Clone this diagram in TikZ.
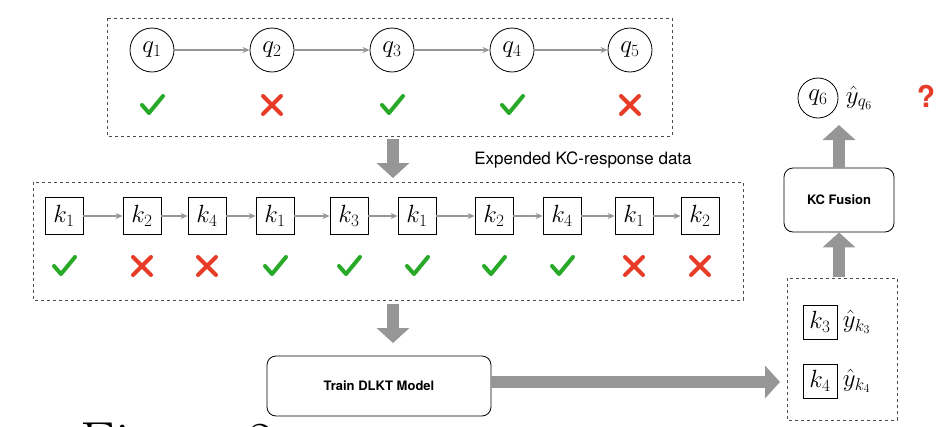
\documentclass[tikz,border=0pt]{standalone}
\usepackage{fontspec}
\setsansfont{TeX Gyre Heros}
\usetikzlibrary{arrows.meta,positioning}
\definecolor{OkGreen}{RGB}{40,170,40}
\definecolor{BadRed}{RGB}{230,60,40}
\definecolor{FlowGray}{RGB}{150,150,150}
\tikzset{
  qnode/.style={circle,draw,thick,minimum size=44pt,inner sep=0pt,font=\fontsize{26}{26}\selectfont},
  knode/.style={rectangle,draw,thick,minimum width=38pt,minimum height=37pt,inner sep=0pt,font=\fontsize{24}{24}\selectfont},
  group/.style={draw=black!70,dashed,thick},
  proc/.style={rectangle,draw,thick,rounded corners=9pt,font=\sffamily\bfseries\fontsize{13}{13}\selectfont},
  seqarrow/.style={-{Stealth[length=7pt,width=6pt]},FlowGray,line width=1.4pt},
  flow/.style={-{Triangle[length=15pt,width=32pt]},FlowGray,line width=12pt},
  ok/.pic={\draw[OkGreen,line width=4pt,line cap=round,line join=round] (-10,0) -- (-3,8) -- (11,-9);},
  bad/.pic={\draw[BadRed,line width=4pt,line cap=round] (-9,-9) -- (9,9) (-9,9) -- (9,-9);}
}
\begin{document}
\begin{tikzpicture}[x=1pt,y=-1pt]
\useasboundingbox (0,0) rectangle (948,426);
% question sequence
\draw[group] (107,18) rectangle (672,136);
\foreach \i/\x/\m in {1/152/ok,2/272/bad,3/392/ok,4/512/ok,5/630/bad} {
   \node[qnode] (q\i) at (\x,50) {$q_{\i}$};
   \pic at (\x,105) {\m};
}
\foreach \a/\b in {1/2,2/3,3/4,4/5} {
   \draw[seqarrow] (q\a) -- (q\b);
}
\coordinate (s1) at (393,139);
\coordinate (e1) at (393,178);
\draw[flow] (s1) -- (e1);
\node[font=\sffamily\fontsize{17}{17}\selectfont] (lab) at (583,160) {Expended KC-response data};
% expanded KC sequence
\draw[group] (33,182) rectangle (743,300);
\foreach \i/\x/\k/\m in {1/64/1/ok,2/142/2/bad,3/207/4/bad,4/275/1/ok,5/349/3/ok,6/417/1/ok,7/494/2/ok,8/562/4/ok,9/634/1/bad,10/700/2/bad} {
   \node[knode] (k\i) at (\x,216) {$k_{\k}$};
   \pic at (\x,266) {\m};
}
\foreach \a/\b in {1/2,2/3,3/4,4/5,5/6,6/7,7/8,8/9,9/10} {
   \draw[seqarrow] (k\a) -- (k\b);
}
\coordinate (s2) at (393,304);
\coordinate (e2) at (393,343);
\draw[flow] (s2) -- (e2);
\node[proc,minimum width=224pt,minimum height=60pt] (train) at (379,386) {Train DLKT Model};
\coordinate (e3) at (780,382);
\draw[flow] (train.east |- e3) -- (e3);
% prediction
\draw[group] (787,278) rectangle (897,420);
\node[knode,minimum width=34pt,minimum height=34pt] (kp3) at (820,322) {$k_3$};
\node[knode,minimum width=34pt,minimum height=34pt] (kp4) at (820,381) {$k_4$};
\node[font=\fontsize{24}{24}\selectfont,right=2pt of kp3] (y3) {$\hat{y}_{k_3}$};
\node[font=\fontsize{24}{24}\selectfont,right=2pt of kp4] (y4) {$\hat{y}_{k_4}$};
\node[proc,minimum width=110pt,minimum height=64pt] (fusion) at (839,200) {KC Fusion};
\node[qnode,minimum size=40pt] (q6) at (818,98) {$q_6$};
\node[font=\fontsize{24}{24}\selectfont,right=4pt of q6] (y6) {$\hat{y}_{q_6}$};
\node[text=BadRed,font=\sffamily\bfseries\fontsize{30}{30}\selectfont] (qm) at (926,96) {?};
\coordinate (s4) at (839,277);
\draw[flow] (s4) -- (fusion.south);
\draw[flow] (fusion.north) -- (839,125);
% caption cut by the page edge
\node[anchor=base west,font=\fontsize{58}{58}\selectfont,inner sep=0pt] (cap) at (80,462) {Figure 2};
\end{tikzpicture}
\end{document}
